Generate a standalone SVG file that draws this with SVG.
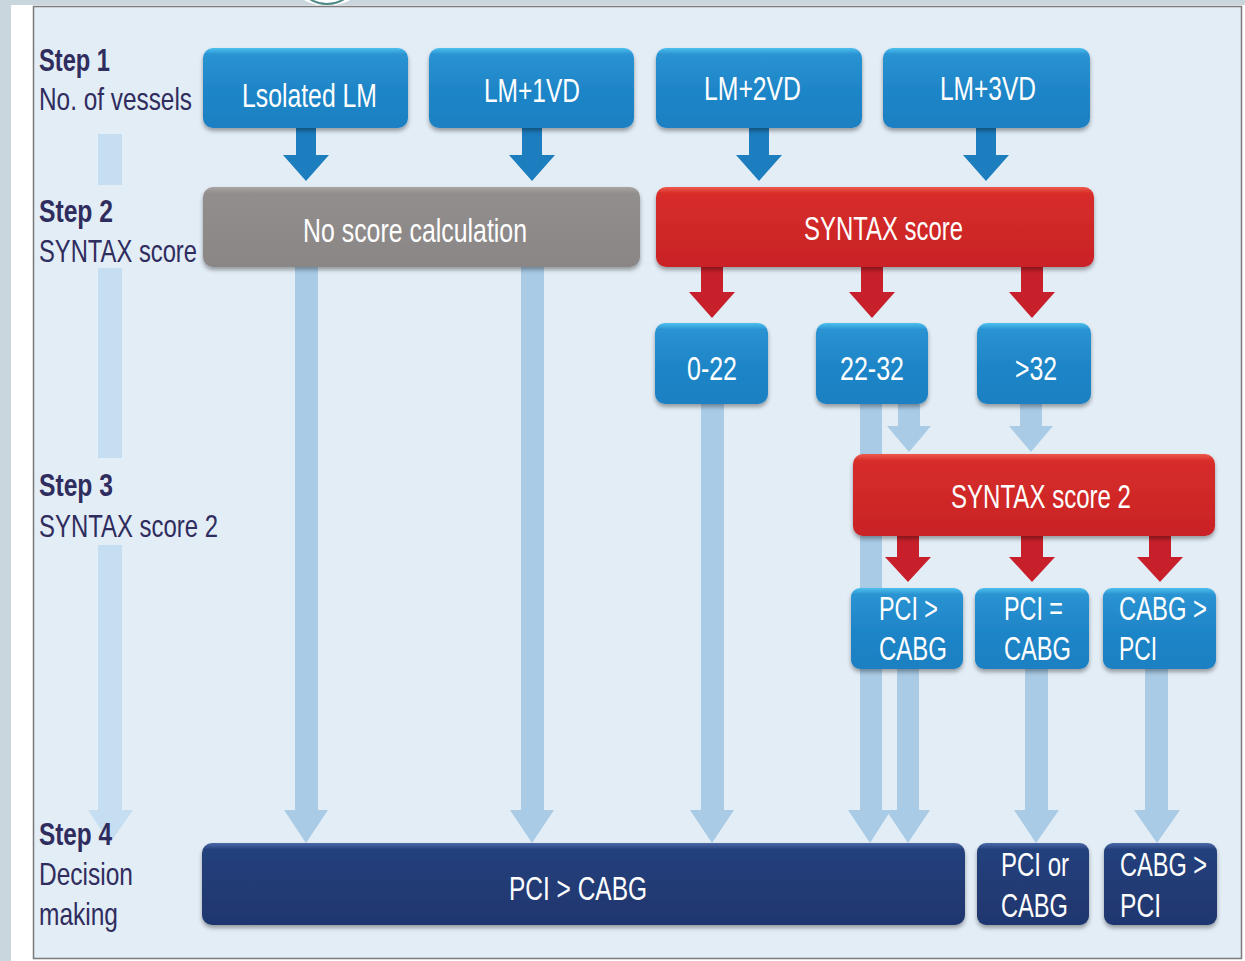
<svg xmlns="http://www.w3.org/2000/svg" width="1245" height="961" viewBox="0 0 1245 961">
<defs>
<linearGradient id="gBlue" x1="0" y1="0" x2="0" y2="1"><stop offset="0" stop-color="#4cc0ee"/><stop offset="0.08" stop-color="#2a93d2"/><stop offset="0.5" stop-color="#1f86c8"/><stop offset="1" stop-color="#1d80c2"/></linearGradient>
<linearGradient id="gRed" x1="0" y1="0" x2="0" y2="1"><stop offset="0" stop-color="#ee5a4c"/><stop offset="0.08" stop-color="#d72d2a"/><stop offset="1" stop-color="#c92226"/></linearGradient>
<linearGradient id="gGray" x1="0" y1="0" x2="0" y2="1"><stop offset="0" stop-color="#a8a4a4"/><stop offset="0.08" stop-color="#928e8e"/><stop offset="1" stop-color="#8a8686"/></linearGradient>
<linearGradient id="gNavy" x1="0" y1="0" x2="0" y2="1"><stop offset="0" stop-color="#4b6aa8"/><stop offset="0.08" stop-color="#24407c"/><stop offset="1" stop-color="#1f366e"/></linearGradient>
<filter id="sh" x="-5%" y="-10%" width="110%" height="130%"><feDropShadow dx="0" dy="3" stdDeviation="2" flood-color="#000" flood-opacity="0.35"/></filter>
<style>
.lbl{font-family:"Liberation Sans",Arial,sans-serif;font-size:32px;fill:#2f2c5e}
.lblb{font-family:"Liberation Sans",Arial,sans-serif;font-size:31px;font-weight:bold;fill:#2f2c5e}
.bt{font-family:"Liberation Sans",Arial,sans-serif;font-size:34px;fill:#ffffff}
.blue{fill:url(#gBlue);filter:url(#sh)}
.red{fill:url(#gRed);filter:url(#sh)}
.gray{fill:url(#gGray);filter:url(#sh)}
.navy{fill:url(#gNavy);filter:url(#sh)}
.aBlue{fill:#1c7dbf}
.aRed{fill:#c8202a}
.aLight{fill:#a9cbe6}
.aFaint{fill:#c6def1}
</style>
</defs>
<!-- page background -->
<rect x="0" y="0" width="1245" height="961" fill="#ffffff"/>
<rect x="0" y="0" width="1245" height="5" fill="#c9d6de"/>
<rect x="0" y="0" width="11" height="961" fill="#c9d6de"/>
<circle cx="327" cy="-42" r="48" fill="#ffffff"/>
<circle cx="327" cy="-28" r="32" fill="none" stroke="#4f8a88" stroke-width="2"/>
<rect x="33.5" y="6.5" width="1208" height="952" fill="#e3edf6" stroke="#7a7a7a" stroke-width="1.5"/>

<!-- faint left step arrow -->
<g id="step-arrow">
<rect class="aFaint" x="98" y="134" width="24" height="51"/>
<rect class="aFaint" x="98" y="268" width="24" height="190"/>
<rect class="aFaint" x="98" y="545" width="24" height="266"/>
<polygon class="aFaint" points="88,810 133,810 110,843"/>
</g>

<!-- step labels -->
<g id="labels">
<text class="lblb" x="39" y="71" textLength="71" lengthAdjust="spacingAndGlyphs">Step 1</text>
<text class="lbl" x="39" y="110" textLength="153" lengthAdjust="spacingAndGlyphs">No. of vessels</text>
<text class="lblb" x="39" y="222" textLength="74" lengthAdjust="spacingAndGlyphs">Step 2</text>
<text class="lbl" x="39" y="262" textLength="158" lengthAdjust="spacingAndGlyphs">SYNTAX score</text>
<text class="lblb" x="39" y="496" textLength="74" lengthAdjust="spacingAndGlyphs">Step 3</text>
<text class="lbl" x="39" y="537" textLength="179" lengthAdjust="spacingAndGlyphs">SYNTAX score 2</text>
<text class="lblb" x="39" y="845" textLength="73" lengthAdjust="spacingAndGlyphs">Step 4</text>
<text class="lbl" x="39" y="885" textLength="94" lengthAdjust="spacingAndGlyphs">Decision</text>
<text class="lbl" x="39" y="925" textLength="79" lengthAdjust="spacingAndGlyphs">making</text>
</g>

<!-- connectors -->
<g id="connectors">
<polygon class="aBlue" points="296,128 316,128 316,155 329,155 306,181 283,155 296,155"/>
<polygon class="aBlue" points="522,128 542,128 542,155 555,155 532,181 509,155 522,155"/>
<polygon class="aBlue" points="749,128 769,128 769,155 782,155 759,181 736,155 749,155"/>
<polygon class="aBlue" points="976,128 996,128 996,155 1009,155 986,181 963,155 976,155"/>
<polygon class="aRed" points="701,267 723,267 723,292 735,292 712,318 689,292 701,292"/>
<polygon class="aRed" points="861,267 883,267 883,292 895,292 872,318 849,292 861,292"/>
<polygon class="aRed" points="1021,267 1043,267 1043,292 1055,292 1032,318 1009,292 1021,292"/>
<polygon class="aRed" points="897,536 919,536 919,557 931,557 908,582 885,557 897,557"/>
<polygon class="aRed" points="1021,536 1043,536 1043,557 1055,557 1032,582 1009,557 1021,557"/>
<polygon class="aRed" points="1149,536 1171,536 1171,557 1183,557 1160,582 1137,557 1149,557"/>
<polygon class="aLight" points="295,267 318,267 318,810 328,810 306,843 284,810 295,810"/>
<polygon class="aLight" points="521,267 544,267 544,810 554,810 532,843 510,810 521,810"/>
<polygon class="aLight" points="701,404 724,404 724,810 734,810 712,843 690,810 701,810"/>
<polygon class="aLight" points="860,404 882,404 882,810 891,810 870,843 848,810 860,810"/>
<polygon class="aLight" points="898,404 920,404 920,426 931,426 909,452 887,426 898,426"/>
<polygon class="aLight" points="1020,404 1042,404 1042,426 1053,426 1031,452 1009,426 1020,426"/>
<polygon class="aLight" points="897,669 919,669 919,810 930,810 908,843 886,810 897,810"/>
<polygon class="aLight" points="1025,669 1048,669 1048,810 1059,810 1036,843 1014,810 1025,810"/>
<polygon class="aLight" points="1145,669 1168,669 1168,810 1180,810 1157,843 1134,810 1145,810"/>
</g>

<!-- nodes -->
<g id="n-isolated-lm"><rect class="blue" x="203" y="48" width="205" height="80" rx="10"/><text class="bt" x="242" y="107" textLength="135" lengthAdjust="spacingAndGlyphs">Lsolated LM</text></g>
<g id="n-lm1vd"><rect class="blue" x="429" y="48" width="205" height="80" rx="10"/><text class="bt" x="484" y="102" textLength="96" lengthAdjust="spacingAndGlyphs">LM+1VD</text></g>
<g id="n-lm2vd"><rect class="blue" x="656" y="48" width="206" height="80" rx="10"/><text class="bt" x="704" y="100" textLength="97" lengthAdjust="spacingAndGlyphs">LM+2VD</text></g>
<g id="n-lm3vd"><rect class="blue" x="883" y="48" width="207" height="80" rx="10"/><text class="bt" x="940" y="100" textLength="96" lengthAdjust="spacingAndGlyphs">LM+3VD</text></g>

<g id="n-no-score"><rect class="gray" x="203" y="187" width="437" height="80" rx="10"/><text class="bt" x="303" y="242" textLength="224" lengthAdjust="spacingAndGlyphs">No score calculation</text></g>
<g id="n-syntax"><rect class="red" x="656" y="187" width="438" height="80" rx="10"/><text class="bt" x="804" y="240" textLength="159" lengthAdjust="spacingAndGlyphs">SYNTAX score</text></g>

<g id="n-0-22"><rect class="blue" x="655" y="323" width="113" height="81" rx="10"/><text class="bt" x="687" y="380" textLength="50" lengthAdjust="spacingAndGlyphs">0-22</text></g>
<g id="n-22-32"><rect class="blue" x="816" y="323" width="112" height="81" rx="10"/><text class="bt" x="840" y="380" textLength="64" lengthAdjust="spacingAndGlyphs">22-32</text></g>
<g id="n-gt32"><rect class="blue" x="977" y="323" width="114" height="81" rx="10"/><text class="bt" x="1015" y="380" textLength="42" lengthAdjust="spacingAndGlyphs">&gt;32</text></g>

<g id="n-syntax2"><rect class="red" x="853" y="454" width="362" height="82" rx="10"/><text class="bt" x="951" y="508" textLength="180" lengthAdjust="spacingAndGlyphs">SYNTAX score 2</text></g>

<g id="n-pci-gt-cabg"><rect class="blue" x="851" y="588" width="112" height="81" rx="9"/><text class="bt" x="879" y="620" textLength="59" lengthAdjust="spacingAndGlyphs">PCI &gt;</text><text class="bt" x="879" y="660" textLength="68" lengthAdjust="spacingAndGlyphs">CABG</text></g>
<g id="n-pci-eq-cabg"><rect class="blue" x="975" y="588" width="114" height="81" rx="9"/><text class="bt" x="1004" y="620" textLength="59" lengthAdjust="spacingAndGlyphs">PCI =</text><text class="bt" x="1004" y="660" textLength="67" lengthAdjust="spacingAndGlyphs">CABG</text></g>
<g id="n-cabg-gt-pci"><rect class="blue" x="1103" y="588" width="113" height="81" rx="9"/><text class="bt" x="1119" y="620" textLength="88" lengthAdjust="spacingAndGlyphs">CABG &gt;</text><text class="bt" x="1119" y="660" textLength="38" lengthAdjust="spacingAndGlyphs">PCI</text></g>

<g id="n-decision-pci"><rect class="navy" x="202" y="843" width="763" height="82" rx="10"/><text class="bt" x="509" y="900" textLength="138" lengthAdjust="spacingAndGlyphs">PCI &gt; CABG</text></g>
<g id="n-decision-either"><rect class="navy" x="977" y="843" width="112" height="82" rx="9"/><text class="bt" x="1001" y="876" textLength="68" lengthAdjust="spacingAndGlyphs">PCI or</text><text class="bt" x="1001" y="917" textLength="67" lengthAdjust="spacingAndGlyphs">CABG</text></g>
<g id="n-decision-cabg"><rect class="navy" x="1104" y="843" width="113" height="82" rx="9"/><text class="bt" x="1120" y="876" textLength="87" lengthAdjust="spacingAndGlyphs">CABG &gt;</text><text class="bt" x="1120" y="917" textLength="41" lengthAdjust="spacingAndGlyphs">PCI</text></g>
</svg>
